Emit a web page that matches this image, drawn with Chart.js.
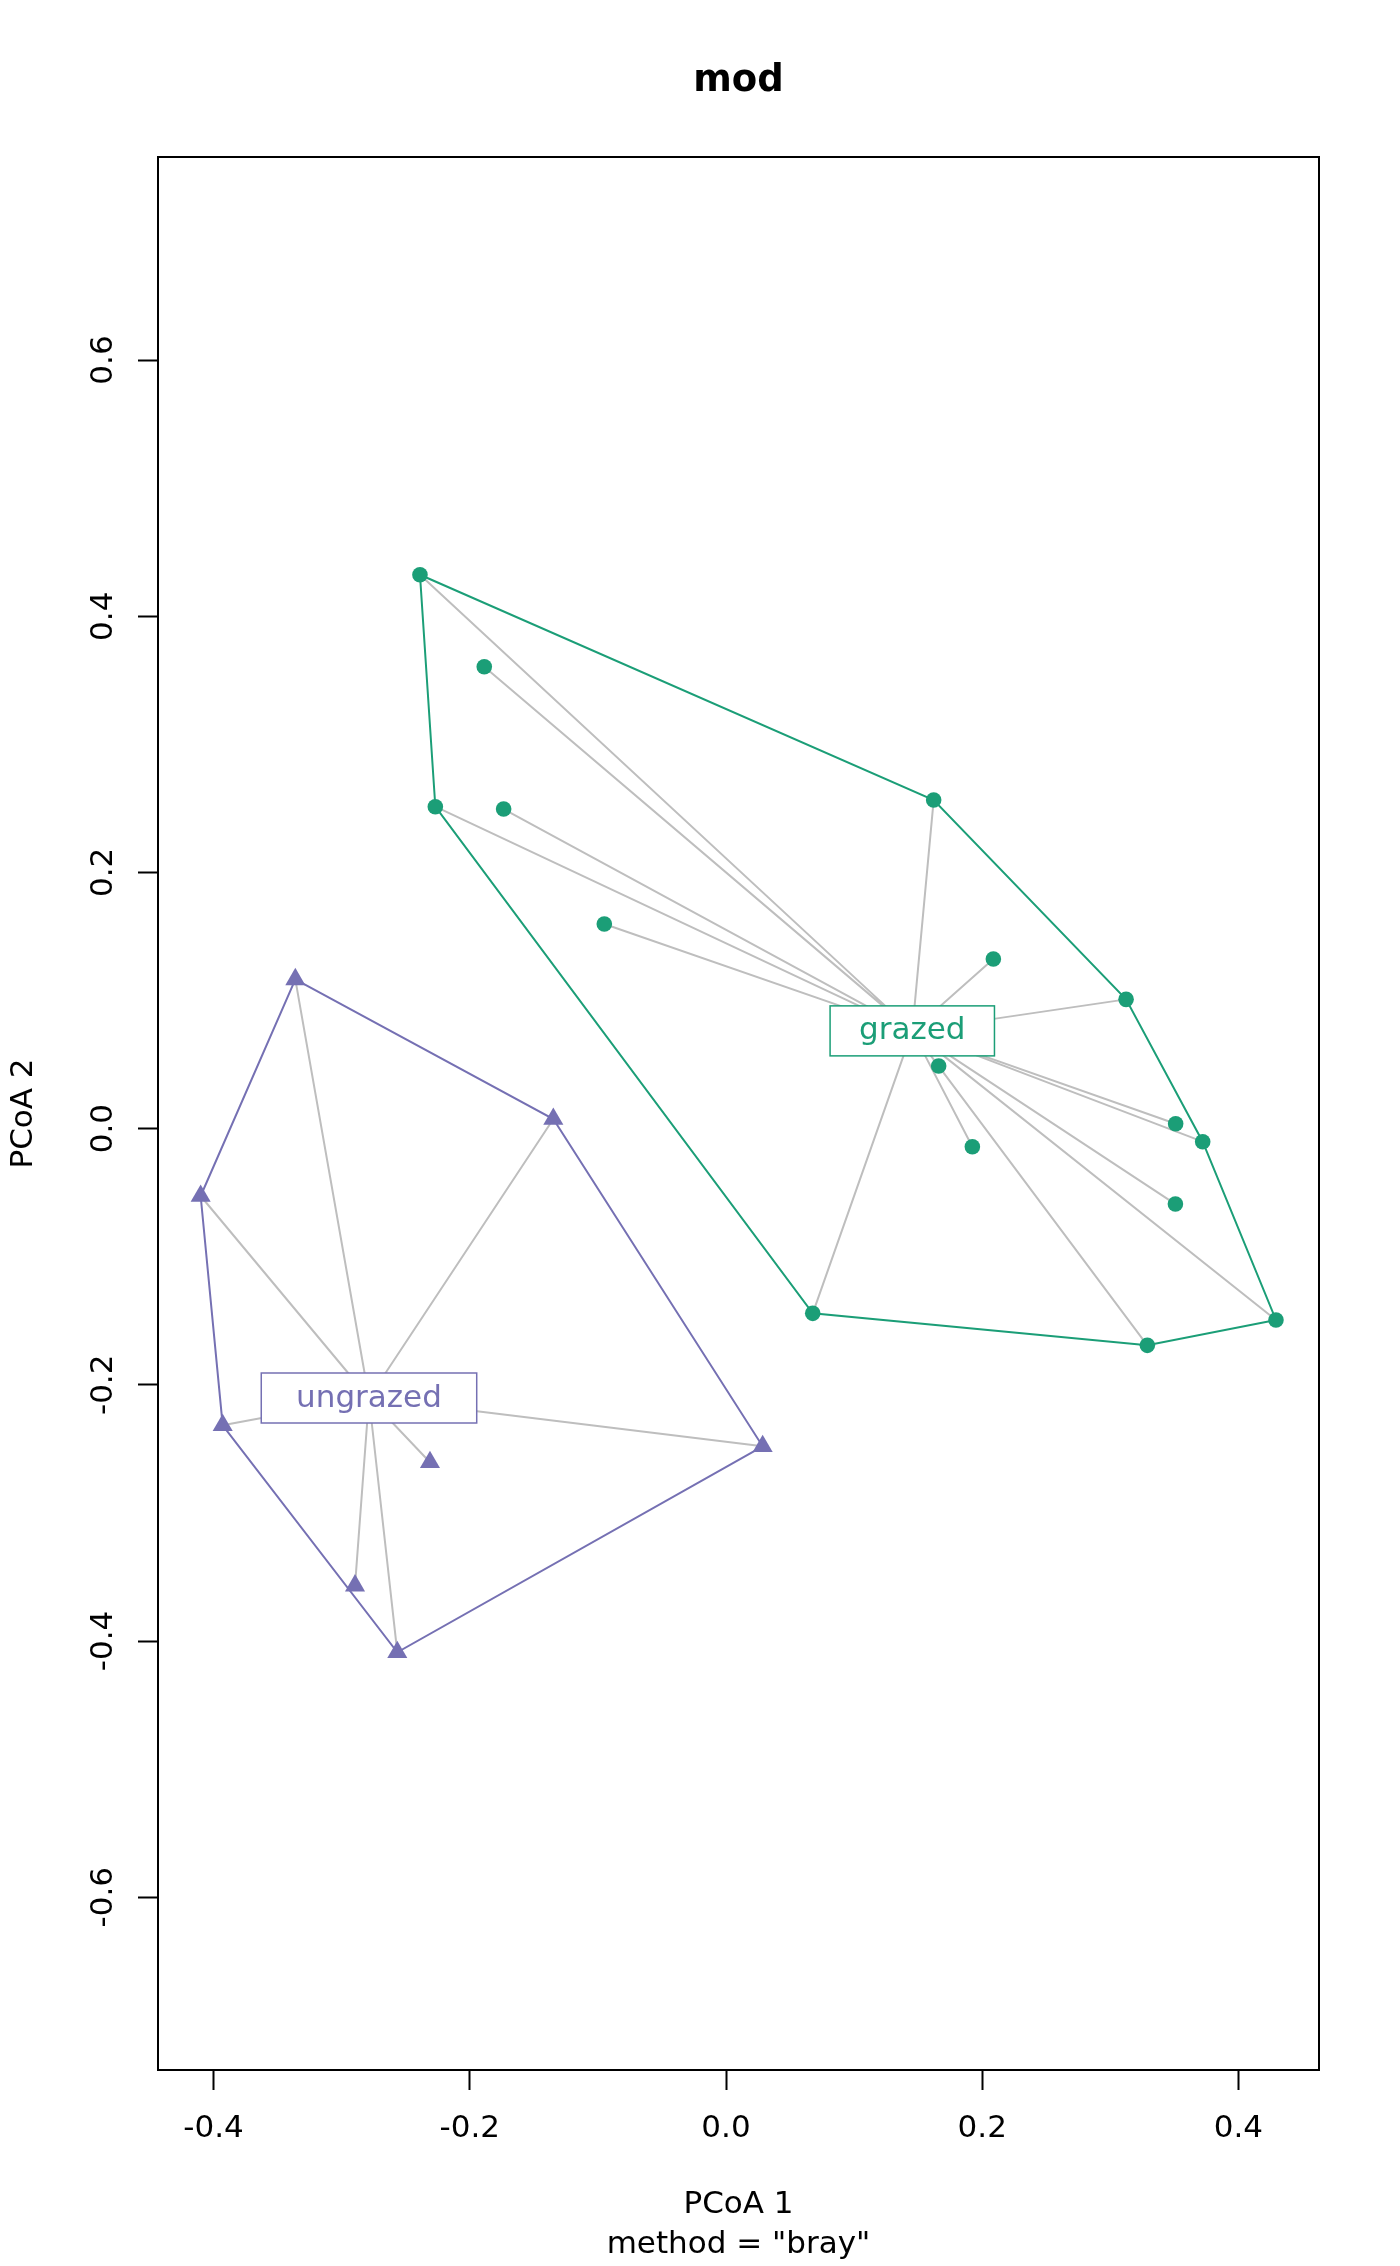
<!DOCTYPE html>
<html>
<head>
<meta charset="utf-8">
<script src="https://cdn.jsdelivr.net/npm/chart.js@4"></script>
<style>
  html, body { margin: 0; padding: 0; background: #fff; }
  canvas { display: block; }
</style>
</head>
<body>
<canvas id="chart" width="1400" height="2266"></canvas>
<script>
// PCoA scores
const grazedX = [-0.2389, -0.1887, -0.2269, -0.1736, 0.1621, -0.0950, 0.2087, 0.3123, 0.1660, 0.3510, 0.3721, 0.1923, 0.3508, 0.0677, 0.3289, 0.4293];
const grazedY = [0.4324, 0.3606, 0.2513, 0.2495, 0.2565, 0.1597, 0.1324, 0.1009, 0.0489, 0.0038, -0.0102, -0.0141, -0.0589, -0.1442, -0.1692, -0.1494];
const ungrazedX = [-0.3362, -0.1348, -0.4101, -0.3929, -0.2311, 0.0286, -0.2896, -0.2566];
const ungrazedY = [0.1165, 0.0075, -0.0526, -0.2316, -0.2605, -0.2480, -0.3568, -0.4088];
const grazedCentroid = [0.1454, 0.0763];
const ungrazedCentroid = [-0.2787, -0.2103];
// convex hull order (indices into the arrays above)
const grazedHull = [0, 4, 7, 10, 15, 14, 13, 2];
const ungrazedHull = [0, 1, 5, 7, 3, 2];
const xTicks = [-0.4, -0.2, 0.0, 0.2, 0.4];
const yTicks = [-0.6, -0.4, -0.2, 0.0, 0.2, 0.4, 0.6];
const xRange = [-0.4434, 0.4629];
const yRange = [-0.7349, 0.7585];

const FONT = '"DejaVu Sans", "Liberation Sans", sans-serif';
const grazedCol = '#1B9E77', ungrazedCol = '#7570B3', segCol = '#BEBEBE';

const pts = (xs, ys) => xs.map((v, i) => ({x: v, y: ys[i]}));
const spokes = (xs, ys, c) => xs.flatMap((v, i) => [{x: v, y: ys[i]}, {x: c[0], y: c[1]}, {x: c[0], y: null}]);
const hull = (xs, ys, idx) => idx.concat(idx[0]).map(i => ({x: xs[i], y: ys[i]}));

const groups = [
  {name: 'grazed', color: grazedCol, centroid: grazedCentroid},
  {name: 'ungrazed', color: ungrazedCol, centroid: ungrazedCentroid}
];

const lineSet = (data, color, order) => ({data, showLine: true, borderColor: color, borderWidth: 2, pointRadius: 0, fill: false, order});

const extras = {
  id: 'extras',
  afterDatasetsDraw(chart) {
    const {ctx, chartArea: a, scales: {x, y}} = chart;
    ctx.save();
    ctx.strokeStyle = '#000'; ctx.lineWidth = 2;
    ctx.strokeRect(a.left, a.top, a.right - a.left, a.bottom - a.top);
    ctx.font = '31px ' + FONT;
    groups.forEach(g => {
      const px = x.getPixelForValue(g.centroid[0]), py = y.getPixelForValue(g.centroid[1]);
      const tw = ctx.measureText(g.name).width, w = tw * 1.3 + 26, h = 50;
      ctx.fillStyle = '#fff'; ctx.fillRect(px - w / 2, py - h / 2, w, h);
      ctx.strokeStyle = g.color; ctx.lineWidth = 1.5; ctx.strokeRect(px - w / 2, py - h / 2, w, h);
      ctx.fillStyle = g.color; ctx.textAlign = 'center'; ctx.textBaseline = 'alphabetic';
      ctx.fillText(g.name, px, py + 8.5);
    });
    // rotated y tick labels, as R draws them
    ctx.fillStyle = '#000'; ctx.textAlign = 'center'; ctx.textBaseline = 'alphabetic';
    yTicks.forEach(v => {
      ctx.save(); ctx.translate(a.left - 46, y.getPixelForValue(v)); ctx.rotate(-Math.PI / 2);
      ctx.fillText(v.toFixed(1), 0, 0); ctx.restore();
    });
    ctx.restore();
  }
};

new Chart(document.getElementById('chart'), {
  type: 'scatter',
  data: {
    datasets: [
      {data: pts(grazedX, grazedY), backgroundColor: grazedCol, borderWidth: 0, pointRadius: 7.8, pointStyle: 'circle', order: 0},
      {data: pts(ungrazedX, ungrazedY), backgroundColor: ungrazedCol, borderWidth: 0, pointRadius: 11.6, pointStyle: 'triangle', order: 0},
      lineSet(hull(grazedX, grazedY, grazedHull), grazedCol, 1),
      lineSet(hull(ungrazedX, ungrazedY, ungrazedHull), ungrazedCol, 1),
      lineSet(spokes(grazedX, grazedY, grazedCentroid), segCol, 2),
      lineSet(spokes(ungrazedX, ungrazedY, ungrazedCentroid), segCol, 2)
    ]
  },
  options: {
    responsive: false, devicePixelRatio: 1, animation: false,
    layout: {padding: {left: 0, right: 81, top: 0, bottom: 0}},
    plugins: {
      legend: {display: false}, tooltip: {enabled: false},
      title: {display: true, text: 'mod', fullSize: false, color: '#000',
        font: {family: FONT, size: 37, weight: 'bold', lineHeight: 1.2}, padding: {top: 59, bottom: 53.6}}
    },
    scales: {
      x: {
        type: 'linear', position: 'bottom', min: xRange[0], max: xRange[1],
        afterBuildTicks: s => { s.ticks = xTicks.map(v => ({value: v})); },
        afterFit: s => { s.height = 196; },
        grid: {drawOnChartArea: false, drawTicks: true, tickLength: 20, tickColor: '#000', tickWidth: 2},
        border: {display: true, color: '#000', width: 2},
        ticks: {color: '#000', padding: 20, maxRotation: 0, font: {family: FONT, size: 31}, callback: v => Number(v).toFixed(1)},
        title: {display: true, text: ['PCoA 1', 'method = "bray"'], color: '#000', font: {family: FONT, size: 31, lineHeight: '40px'}, padding: {top: 0, bottom: 1}}
      },
      y: {
        type: 'linear', position: 'left', min: yRange[0], max: yRange[1],
        afterBuildTicks: s => { s.ticks = yTicks.map(v => ({value: v})); },
        afterFit: s => { s.width = 158; },
        grid: {drawOnChartArea: false, drawTicks: true, tickLength: 20, tickColor: '#000', tickWidth: 2},
        border: {display: true, color: '#000', width: 2},
        ticks: {display: false},
        title: {display: true, text: 'PCoA 2', color: '#000', font: {family: FONT, size: 31, lineHeight: 1.2}, padding: {top: 5.7, bottom: 0}}
      }
    }
  },
  plugins: [extras]
});
</script>
</body>
</html>
